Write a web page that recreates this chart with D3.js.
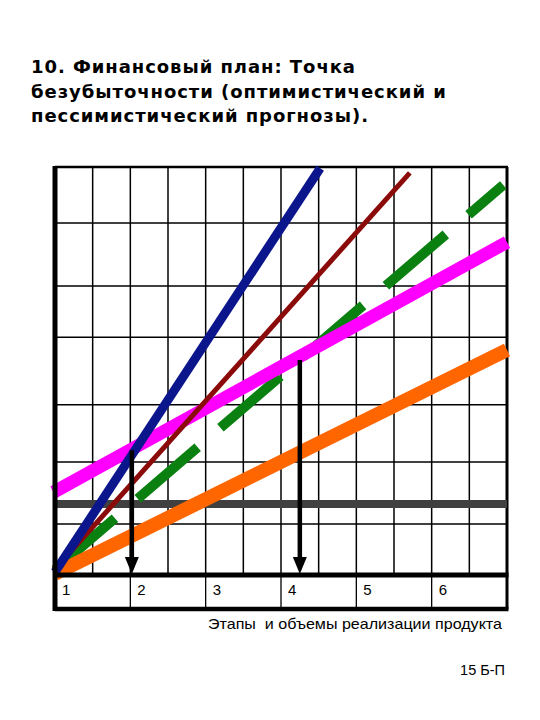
<!DOCTYPE html>
<html><head><meta charset="utf-8">
<script src="https://cdn.jsdelivr.net/npm/d3@7"></script>
<style>html,body{margin:0;padding:0;background:#fff;}svg{display:block;}</style>
</head><body>
<div id="chart"></div>
<script>
// ---- data ----
const titleLines = ["10. Финансовый план: Точка", "безубыточности (оптимистический и", "пессимистический прогнозы)."];
const stages = [1, 2, 3, 4, 5, 6];
const stageLabels = ["1", "2", "3", "4", "5", "6"];
const xGrid = [1.5, 2, 2.5, 3, 3.5, 4, 4.5, 5, 5.5, 6, 6.5];
const yGrid = [8.75, 19.4, 29.2, 40.8, 49.6, 60.4];
const fixedCost = [[1, 12.2], [7, 12.2]];
const blueLine = [[1, 0.5], [4.52, 69.8]];
const redLine = [[0.98, 0.7], [5.71, 69.0]];
const greenLine = [[1, 0.9], [6.95, 66.9]];
const magentaLine = [[0.98, 14.2], [7, 57.1]];
const orangeLine = [[1, 0.2], [7, 38.6]];
const arrowX = [2.02, 4.25];
const arrowTop = [21.4, 36.9];
const xAxisTitle = "Этапы  и объемы реализации продукта";
const pageNote = "15 Б-П";

// ---- drawing ----
const W = 540, H = 720;
const svg = d3.select("#chart").append("svg").attr("width", W).attr("height", H);
const x = d3.scaleLinear().domain([1, 7]).range([55, 507]);
const y = d3.scaleLinear().domain([0, 70]).range([575, 167]);
const labelBottom = 609;

// title
svg.append("g").selectAll("text").data(titleLines).join("text")
  .attr("x", 31).attr("y", (d, i) => 73 + i * 24.5)
  .attr("font-family", "DejaVu Sans").attr("font-weight", "bold")
  .attr("font-size", 18).attr("letter-spacing", 0.95).attr("fill", "#000").text(d => d);

// grid
const g = svg.append("g");
g.selectAll("line.vg").data(xGrid).join("line").attr("class", "vg")
  .attr("x1", d => x(d)).attr("x2", d => x(d)).attr("y1", y(70)).attr("y2", y(0))
  .attr("stroke", "#000").attr("stroke-width", 1.5);
g.selectAll("line.hg").data(yGrid).join("line").attr("class", "hg")
  .attr("x1", x(1)).attr("x2", x(7)).attr("y1", d => y(d)).attr("y2", d => y(d))
  .attr("stroke", "#000").attr("stroke-width", 1.5);
// label row separators
g.selectAll("line.lr").data(stages.slice(1)).join("line").attr("class", "lr")
  .attr("x1", d => x(d)).attr("x2", d => x(d)).attr("y1", y(0)).attr("y2", labelBottom)
  .attr("stroke", "#000").attr("stroke-width", 1.3);
g.append("line").attr("x1", x(1)).attr("x2", x(7) + 1.5).attr("y1", labelBottom).attr("y2", labelBottom)
  .attr("stroke", "#000").attr("stroke-width", 4.5);
// top border
g.append("line").attr("x1", x(1)).attr("x2", x(7) + 1).attr("y1", y(70)).attr("y2", y(70))
  .attr("stroke", "#000").attr("stroke-width", 2.5);
// right border
g.append("line").attr("x1", x(7)).attr("x2", x(7)).attr("y1", y(70)).attr("y2", labelBottom)
  .attr("stroke", "#000").attr("stroke-width", 3);

// tick labels
svg.append("g").selectAll("text").data(stages).join("text")
  .attr("x", d => x(d) + 7).attr("y", 595)
  .attr("font-family", "Liberation Sans, Arial").attr("font-size", 15).attr("fill", "#000")
  .text((d, i) => stageLabels[i]);

const line = d3.line().x(d => x(d[0])).y(d => y(d[1]));

// fixed costs
svg.append("path").attr("d", line(fixedCost)).attr("stroke", "#404040").attr("stroke-width", 8).attr("fill", "none");
// green dashed
svg.append("path").attr("d", line(greenLine)).attr("stroke", "#0a8010").attr("stroke-width", 10)
  .attr("stroke-dasharray", "79,30").attr("fill", "none");
// magenta
svg.append("path").attr("d", line(magentaLine)).attr("stroke", "#ff00ff").attr("stroke-width", 13).attr("fill", "none");
// orange
svg.append("path").attr("d", line(orangeLine)).attr("stroke", "#ff6600").attr("stroke-width", 14).attr("fill", "none");
// red
svg.append("path").attr("d", line(redLine)).attr("stroke", "#8b0a0a").attr("stroke-width", 5).attr("fill", "none");
// blue
svg.append("path").attr("d", line(blueLine)).attr("stroke", "#0c168c").attr("stroke-width", 9).attr("fill", "none");

// axes (thick)
svg.append("line").attr("x1", x(1)).attr("x2", x(1)).attr("y1", y(70) - 1).attr("y2", labelBottom + 2)
  .attr("stroke", "#000").attr("stroke-width", 5);
svg.append("line").attr("x1", x(1)).attr("x2", x(7) + 1.5).attr("y1", y(0)).attr("y2", y(0))
  .attr("stroke", "#000").attr("stroke-width", 5);

// arrows
const ag = svg.append("g");
arrowX.forEach((ax, i) => {
  const px = x(ax);
  ag.append("line").attr("x1", px).attr("x2", px).attr("y1", y(arrowTop[i])).attr("y2", y(0) - 14)
    .attr("stroke", "#000").attr("stroke-width", 4.5);
  ag.append("path").attr("d", `M${px - 7},${y(0) - 18} L${px + 7},${y(0) - 18} L${px},${y(0) - 1} Z`)
    .attr("fill", "#000");
});

// axis title
svg.append("text").attr("x", 208).attr("y", 629).attr("xml:space", "preserve")
  .style("white-space", "pre")
  .attr("font-family", "Liberation Sans, Arial").attr("font-size", 15)
  .attr("textLength", 294).attr("lengthAdjust", "spacingAndGlyphs").attr("fill", "#000")
  .text(xAxisTitle);
svg.append("text").attr("x", 505).attr("y", 675).attr("text-anchor", "end")
  .attr("font-family", "Liberation Sans, Arial").attr("font-size", 14.5).attr("fill", "#000")
  .text(pageNote);
</script>
</body></html>
